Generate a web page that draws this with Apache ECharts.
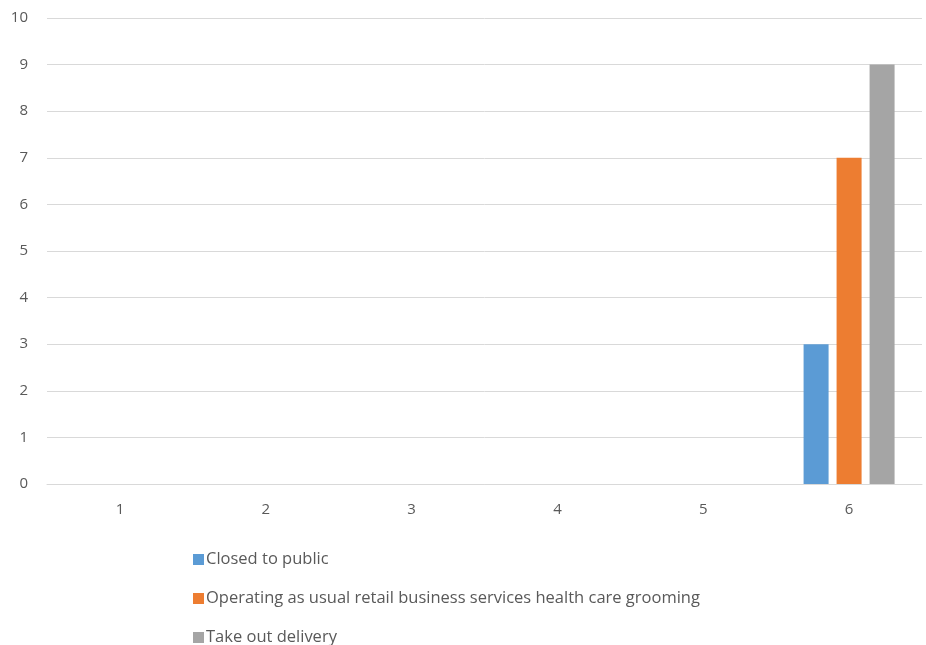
<!DOCTYPE html>
<html><head><meta charset="utf-8">
<script src="https://cdn.jsdelivr.net/npm/echarts@6/dist/echarts.min.js"></script>
<style>html,body{margin:0;padding:0;background:#fff}#c{width:926px;height:645px}</style>
</head><body><div id="c"></div>
<script>
const categories = ['1','2','3','4','5','6'];
const closedToPublic = [null,null,null,null,null,3];
const operatingAsUsual = [null,null,null,null,null,7];
const takeOutDelivery = [null,null,null,null,null,9];
const seriesNames = ['Closed to public','Operating as usual retail business services health care grooming','Take out delivery'];
const colors = ['#5b9bd5','#ed7d31','#a5a5a5'];

const chart = echarts.init(document.getElementById('c'));
const font = 'Open Sans';
const legendTops = [546, 585, 624];
chart.setOption({
  animation:false,
  color: colors,
  grid:{left:47,right:4,top:18,bottom:161,containLabel:false},
  xAxis:{type:'category',data:categories,
    axisLine:{lineStyle:{color:'#d9d9d9',width:1}},axisTick:{show:false},
    axisLabel:{color:'#595959',fontSize:15,fontFamily:font,margin:18}},
  yAxis:{type:'value',min:0,max:10,interval:1,
    axisLine:{show:false},axisTick:{show:false},
    splitLine:{lineStyle:{color:'#d9d9d9',width:1}},
    axisLabel:{color:'#595959',fontSize:15,fontFamily:font,margin:19}},
  legend: seriesNames.map((n,i)=>({orient:'horizontal',left:188,top:legendTops[i],itemWidth:11,itemHeight:11,
    icon:'rect',textStyle:{color:'#595959',fontSize:16.5,fontFamily:font,padding:[0,0,0,-3]},
    data:[n]})),
  series:[
    {name:seriesNames[0],type:'bar',data:closedToPublic,barWidth:25,barGap:'32%'},
    {name:seriesNames[1],type:'bar',data:operatingAsUsual,barWidth:25,barGap:'32%'},
    {name:seriesNames[2],type:'bar',data:takeOutDelivery,barWidth:25,barGap:'32%'}
  ]
});
</script></body></html>
